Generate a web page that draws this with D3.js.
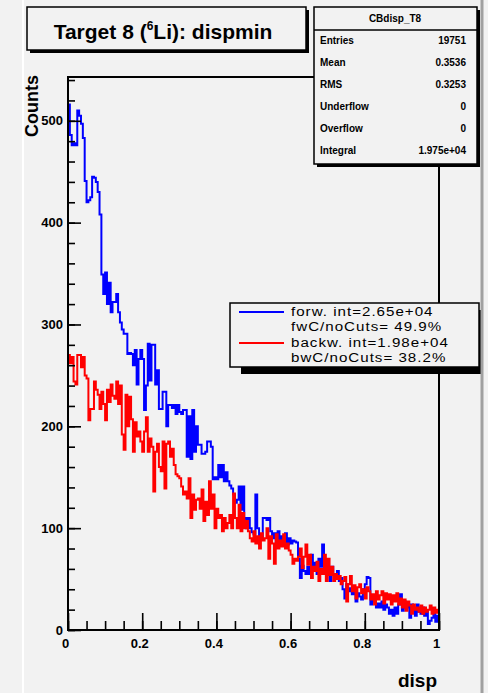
<!DOCTYPE html>
<html><head><meta charset="utf-8">
<script src="https://cdn.jsdelivr.net/npm/d3@7"></script>
<style>
body{margin:0;background:#f2f2f2;}
svg{display:block;font-family:"Liberation Sans",Arial,Helvetica,sans-serif;}
</style>
</head><body>
<svg id="c" width="488" height="693"></svg>
<script>
// ---- data (200 bins on [0,1]) ----
const forwCounts = [
516,486,476,478,476,510,505,497,483,441,
420,422,425,445,444,440,430,408,349,330,
351,320,341,312,322,322,330,312,302,295,
291,291,271,272,271,260,275,241,266,275,
266,216,240,281,245,280,280,241,255,217,
217,234,234,200,221,221,218,221,212,221,
214,212,216,216,170,210,168,216,175,200,
182,182,173,173,175,185,185,180,148,150,
148,162,150,162,146,155,146,142,139,133,
125,128,141,118,141,110,100,110,100,96,
94,133,100,92,90,110,110,108,110,97,
90,95,84,97,88,92,86,95,84,90,
85,88,87,86,70,51,63,58,55,62,
55,74,60,66,55,70,62,84,67,55,
60,48,62,55,50,58,48,51,40,31,
45,38,41,35,40,28,36,33,30,40,
45,52,51,25,31,28,22,26,22,28,
20,25,22,16,20,14,22,16,25,35,
19,28,22,25,12,25,20,14,25,18,
16,22,14,18,6,9,12,18,8,14];
const backwCounts = [
270,262,268,244,241,270,270,258,268,250,
247,206,217,217,244,236,231,217,234,222,
206,236,224,241,230,227,244,222,240,192,
177,231,200,229,207,175,204,190,195,185,
175,195,209,175,188,180,136,175,183,160,
156,185,139,183,185,170,178,162,153,151,
149,141,133,136,129,149,110,133,118,128,
129,119,138,107,126,113,146,119,133,100,
119,110,113,97,110,100,105,113,100,134,
110,100,123,97,115,100,107,97,90,87,
97,85,92,80,95,88,90,100,70,92,
85,65,94,80,88,82,94,80,85,78,
74,65,70,68,72,80,61,72,84,64,
74,51,62,58,67,48,60,55,74,48,
70,54,62,48,55,50,53,45,48,52,
28,45,53,38,44,31,42,45,36,40,
31,42,38,30,35,25,38,30,34,38,
26,36,30,35,25,34,28,36,25,31,
22,30,19,28,24,16,25,20,22,18,
24,16,22,18,20,24,16,22,17,20];
const xRange = [0, 1];
const yRange = [0, 543];
const xTickValues = [0, 0.2, 0.4, 0.6, 0.8, 1];
const xTickLabels = ["0", "0.2", "0.4", "0.6", "0.8", "1"];
const yTickValues = [0, 100, 200, 300, 400, 500];
const yTickLabels = ["0", "100", "200", "300", "400", "500"];
const statsTitle = "CBdisp_T8";
const statsLabels = ["Entries", "Mean", "RMS", "Underflow", "Overflow", "Integral"];
const statsValues = ["19751", "0.3536", "0.3253", "0", "0", "1.975e+04"];
const legendNames = ["forw. int=2.65e+04", "backw. int=1.98e+04"];
const legendSub = ["fwC/noCuts= 49.9%", "bwC/noCuts= 38.2%"];
const seriesColors = ["#0000ff", "#ff0000"];

// ---- drawing ----
const svg = d3.select("#c");
const bg = "#f2f2f2";
const F = {l:68, r:439, t:77, b:630};
const x = d3.scaleLinear().domain(xRange).range([F.l, F.r]);
const y = d3.scaleLinear().domain(yRange).range([F.b, F.t]);

const defs = svg.append("defs");
defs.append("clipPath").attr("id","frameClip").append("rect")
  .attr("x",F.l).attr("y",F.t).attr("width",F.r-F.l).attr("height",F.b-F.t);
defs.append("clipPath").attr("id","padClip").append("rect")
  .attr("x",24).attr("y",0).attr("width",457).attr("height",693);

// histograms
const nb = forwCounts.length;
function histPts(arr){
  const pts = arr.map((v,i)=>[xRange[0]+(xRange[1]-xRange[0])*i/nb, v]);
  pts.push([xRange[1], arr[arr.length-1]]);
  return pts;
}
const line = d3.line().x(d=>x(d[0])).y(d=>y(d[1])).curve(d3.curveStepAfter);
const hg = svg.append("g").attr("clip-path","url(#frameClip)");
[forwCounts, backwCounts].forEach((arr,k)=>{
  hg.append("path").attr("d", line(histPts(arr)))
    .attr("fill","none").attr("stroke",seriesColors[k]).attr("stroke-width",2);
});

// axes ticks
const tickStyle = g => { g.select(".domain").remove(); g.selectAll("line").attr("stroke","#000").attr("stroke-width",1.6); };
svg.append("g").attr("transform",`translate(0,${F.b})`)
  .call(d3.axisBottom(x).tickValues(d3.range(0,21).map(i=>i*0.05)).tickSize(-9).tickFormat(""))
  .call(tickStyle);
const xa = svg.append("g").attr("transform",`translate(0,${F.b})`)
  .call(d3.axisBottom(x).tickValues(xTickValues).tickSize(-17).tickPadding(9).tickFormat((d,i)=>xTickLabels[i]))
  .call(tickStyle);
xa.selectAll("text").attr("font-size",13).attr("font-weight","bold").attr("fill","#000")
  .attr("font-family","'Liberation Sans',Arial,sans-serif").attr("dx",-3);
svg.append("g").attr("transform",`translate(${F.l},0)`)
  .call(d3.axisLeft(y).tickValues(d3.range(0,541,20)).tickSize(-7).tickFormat(""))
  .call(tickStyle);
const ya = svg.append("g").attr("transform",`translate(${F.l},0)`)
  .call(d3.axisLeft(y).tickValues(yTickValues).tickSize(-13).tickPadding(5).tickFormat((d,i)=>yTickLabels[i]))
  .call(tickStyle);
ya.selectAll("text").attr("font-size",13).attr("font-weight","bold").attr("fill","#000")
  .attr("font-family","'Liberation Sans',Arial,sans-serif");

// frame
svg.append("rect").attr("x",F.l).attr("y",F.t).attr("width",F.r-F.l).attr("height",F.b-F.t)
  .attr("fill","none").attr("stroke","#000").attr("stroke-width",2);

// axis titles
svg.append("text").attr("x",437).attr("y",687).attr("text-anchor","end")
  .attr("font-size",19).attr("font-weight","bold").text("disp");
svg.append("text").attr("transform",`translate(38,${F.t-2}) rotate(-90)`).attr("text-anchor","end")
  .attr("font-size",18).attr("font-weight","bold").text("Counts");

// boxes with shadow
const padG = svg.append("g").attr("clip-path","url(#padClip)");
function box(x0,y0,w,h,sx,sy){
  padG.append("rect").attr("x",x0+sx).attr("y",y0+sy).attr("width",w).attr("height",h).attr("fill","#000");
  padG.append("rect").attr("x",x0).attr("y",y0).attr("width",w).attr("height",h)
    .attr("fill",bg).attr("stroke","#000").attr("stroke-width",1.5);
}
// title
box(27,7,279,43,3,3);
const tt = svg.append("text").attr("x",163).attr("y",39).attr("text-anchor","middle")
  .attr("font-size",21).attr("font-weight","bold");
tt.append("tspan").text("Target 8 (");
tt.append("tspan").attr("font-size",12).attr("dy",-9).text("6");
tt.append("tspan").attr("dy",9).text("Li): dispmin");

// stats box
box(314,7,163,157,3,3);
svg.append("line").attr("x1",314).attr("x2",477).attr("y1",30).attr("y2",30).attr("stroke","#000").attr("stroke-width",1.5);
svg.append("text").attr("x",395).attr("y",22).attr("text-anchor","middle")
  .attr("font-size",10).attr("font-weight","bold").text(statsTitle);
statsLabels.forEach((s,i)=>{
  const yy = 44 + i*22;
  svg.append("text").attr("x",320).attr("y",yy).attr("font-size",10).attr("font-weight","bold").text(s);
  svg.append("text").attr("x",466).attr("y",yy).attr("text-anchor","end").attr("font-size",10).attr("font-weight","bold").text(statsValues[i]);
});

// legend
box(230,303,249,64,11,7);
legendNames.forEach((nm,k)=>{
  const y0 = 312 + k*31;
  svg.append("line").attr("x1",239).attr("x2",284).attr("y1",y0).attr("y2",y0)
    .attr("stroke",seriesColors[k]).attr("stroke-width",2);
  [nm, legendSub[k]].forEach((t,j)=>{
    svg.append("text").attr("transform",`translate(291,${y0+4+j*15}) scale(1.12,1)`)
      .attr("font-size",13.5).attr("letter-spacing",0.9).text(t);
  });
});

// pad borders
svg.append("line").attr("x1",23).attr("x2",23).attr("y1",0).attr("y2",693).attr("stroke","#ffffff").attr("stroke-width",2);
svg.append("line").attr("x1",482).attr("x2",482).attr("y1",0).attr("y2",693).attr("stroke","#a0a0a0").attr("stroke-width",3);
</script>
</body></html>
